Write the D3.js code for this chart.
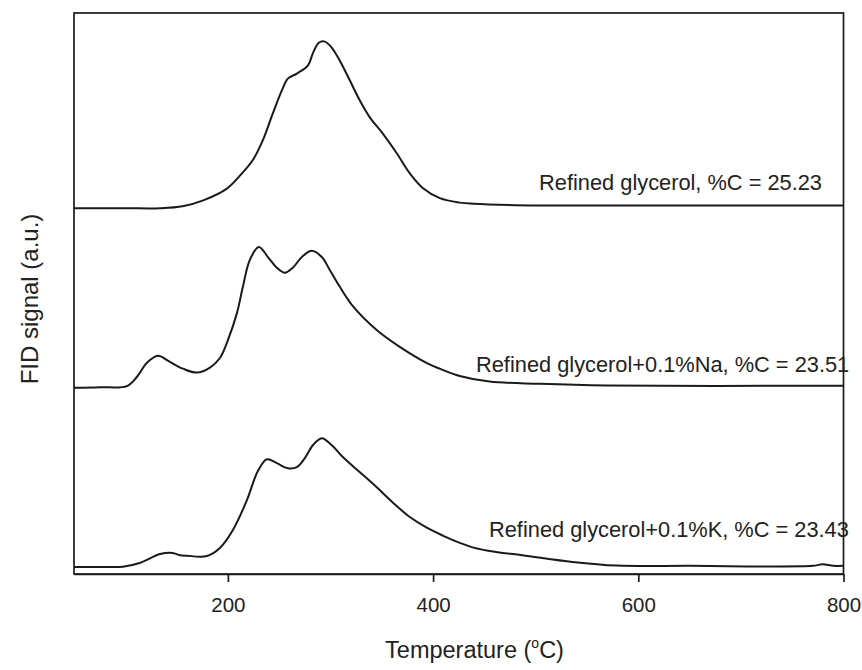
<!DOCTYPE html>
<html>
<head>
<meta charset="utf-8">
<script src="https://cdn.jsdelivr.net/npm/d3@7"></script>
<style>
  html, body { margin: 0; padding: 0; background: #fff; }
  svg { display: block; font-family: "Liberation Sans", Arial, sans-serif; }
</style>
</head>
<body>
<svg id="chart" width="862" height="670"></svg>
<script>
// ---- Data (temperature in °C, FID signal in a.u. above each curve's own baseline) ----
const xTicks = [200, 400, 600, 800];

const glycerolT = [50, 100, 134, 156, 176, 199, 211.7, 224.3, 234, 243.8, 252.6, 258.4, 267.2, 277.9, 282.8, 288.6, 294.5, 301.3, 309.1, 318.8, 328.6, 338.3, 351, 364.6, 377.3, 389.9, 406.5, 426, 439, 504, 600, 800];
const glycerolS = [0, 0, 0, 0.35, 1.4, 3.5, 5.8, 8.6, 12.1, 16.9, 21.0, 23.1, 24.0, 25.4, 27.6, 29.5, 29.7, 28.6, 26.3, 22.8, 19.2, 16.2, 13.3, 9.8, 6.2, 3.6, 1.8, 1.0, 0.8, 0.5, 0.5, 0.5];

const naT = [50, 75.3, 101.6, 111.4, 121.1, 131.8, 143.5, 156.2, 169.8, 182.5, 192.2, 200, 208.8, 214.6, 221.4, 230.2, 239, 247.7, 255.5, 263.3, 272.1, 281.8, 291.5, 299.3, 309.1, 322, 345, 367.5, 394, 406.5, 426, 455, 504, 569, 800];
const naS = [0, 0.1, 0.3, 1.96, 4.45, 5.7, 4.6, 3.4, 2.7, 3.6, 5.3, 8.5, 13.3, 18.0, 22.8, 25.1, 23.3, 21.4, 20.5, 21.4, 23.3, 24.4, 23.3, 21.0, 18.0, 14.5, 10.3, 7.3, 4.4, 3.4, 2.1, 1.1, 0.7, 0.4, 0.35];

const kT = [50, 80, 97.7, 114, 134, 146, 153.2, 160, 179.5, 192.2, 204.9, 218.5, 229.2, 238, 247.7, 258.4, 267.2, 275, 282.8, 291.5, 301.3, 312, 328.6, 345.1, 360.7, 377.3, 393.8, 409.4, 426, 438.6, 460, 487, 536, 579, 650, 770, 779.5, 790, 800];
const kS = [0, 0, 0.05, 0.7, 2.3, 2.5, 2.1, 2.0, 1.96, 3.4, 6.6, 11.9, 17.1, 19.2, 18.5, 17.6, 17.8, 19.4, 21.7, 22.95, 21.7, 19.6, 16.9, 14.2, 11.5, 8.9, 7.0, 5.6, 4.3, 3.5, 2.7, 2.1, 0.9, 0.25, 0.2, 0.2, 0.5, 0.2, 0.2];

const seriesNames = ["Refined glycerol, %C = 25.23", "Refined glycerol+0.1%Na, %C = 23.51", "Refined glycerol+0.1%K, %C = 23.43"];
const seriesOffsets = [65.2, 33.2, 1.25];

// ---- Build ----
const series = [
  {name: seriesNames[0], T: glycerolT, S: glycerolS, off: seriesOffsets[0]},
  {name: seriesNames[1], T: naT, S: naS, off: seriesOffsets[1]},
  {name: seriesNames[2], T: kT, S: kS, off: seriesOffsets[2]}
];

const svg = d3.select("#chart");
const pLeft = 74, pRight = 843.5, pTop = 13, pBottom = 574;

const x = d3.scaleLinear().domain([50, 800]).range([pLeft, pRight]);
const y = d3.scaleLinear().domain([0, 100]).range([pBottom, pTop]);

const ink = "#1a1a1a";

// frame
svg.append("rect")
  .attr("x", pLeft).attr("y", pTop)
  .attr("width", pRight - pLeft).attr("height", pBottom - pTop)
  .attr("fill", "none").attr("stroke", ink).attr("stroke-width", 1.7);

// x axis
const xAxis = d3.axisBottom(x).tickValues(xTicks).tickSize(8).tickSizeOuter(0).tickFormat(d3.format("d"));
const gx = svg.append("g").attr("transform", `translate(0,${pBottom})`).call(xAxis);
gx.select(".domain").attr("stroke", ink).attr("stroke-width", 1.7);
gx.selectAll(".tick line").attr("stroke", ink).attr("stroke-width", 1.7);
gx.selectAll(".tick text")
  .attr("font-size", 20.5).attr("fill", "#222").attr("dy", "0.71em").attr("y", 23)
  .attr("font-family", "'Liberation Sans', Arial, sans-serif");

// curves
const line = d3.line().x(d => x(d[0])).y(d => y(d[1])).curve(d3.curveCatmullRom.alpha(0.5));
series.forEach(s => {
  const pts = s.T.map((t, i) => [t, s.S[i] + s.off]);
  svg.append("path").datum(pts)
    .attr("d", line)
    .attr("fill", "none").attr("stroke", ink).attr("stroke-width", 2)
    .attr("stroke-linejoin", "round");
});

// labels
const labelFont = 21.8;
svg.append("text").attr("x", 822).attr("y", 190).attr("text-anchor", "end")
  .attr("font-size", labelFont).attr("fill", "#222").text(seriesNames[0]);
svg.append("text").attr("x", 476).attr("y", 372).attr("text-anchor", "start")
  .attr("font-size", labelFont).attr("fill", "#222").text(seriesNames[1]);
svg.append("text").attr("x", 489).attr("y", 537).attr("text-anchor", "start")
  .attr("font-size", labelFont).attr("fill", "#222").text(seriesNames[2]);

// axis titles
const xt = svg.append("text").attr("x", 474.5).attr("y", 658)
  .attr("text-anchor", "middle").attr("font-size", 23.5).attr("fill", "#222");
xt.append("tspan").text("Temperature (");
xt.append("tspan").attr("font-size", 14).attr("dy", -10).text("o");
xt.append("tspan").attr("dy", 10).text("C)");

svg.append("text")
  .attr("transform", `translate(38,${299}) rotate(-90)`)
  .attr("text-anchor", "middle").attr("font-size", 24).attr("fill", "#222")
  .text("FID signal (a.u.)");
</script>
</body>
</html>
